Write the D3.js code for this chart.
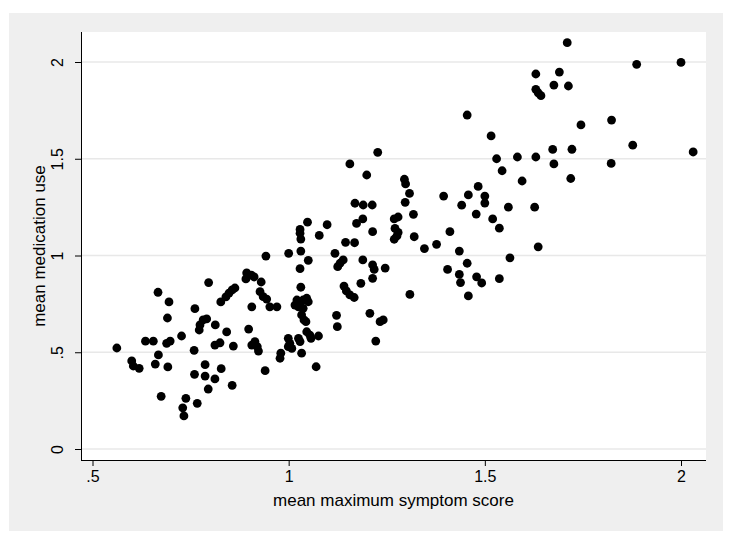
<!DOCTYPE html>
<html>
<head>
<meta charset="utf-8">
<script src="https://cdn.jsdelivr.net/npm/d3@7"></script>
<style>
  body { margin: 0; background: #fff; }
  svg { display: block; }
  text { font-family: Arial, "Liberation Sans", sans-serif; fill: #000; }
</style>
</head>
<body>
<div id="draw"></div>
<script>
// mean maximum symptom score (x) vs mean medication use (y)
var symptom = [
  0.562, 0.600, 0.604, 0.619, 0.635, 0.655, 0.660, 0.668, 0.667, 0.695,
  0.691, 0.689, 0.698, 0.692, 0.675, 0.727, 0.730, 0.733, 0.738, 0.761,
  0.759, 0.760, 0.767, 0.772, 0.774, 0.782, 0.791, 0.787, 0.787, 0.796,
  0.795, 0.812, 0.813, 0.812, 0.825, 0.827, 0.828, 0.842, 0.856, 0.859,
  0.840, 0.848, 0.856, 0.863, 0.893, 0.891, 0.905, 0.912, 0.930, 0.927,
  0.935, 0.944, 0.906, 0.952, 0.970, 0.898, 0.906, 0.914, 0.920, 0.923,
  0.940, 0.942, 0.980, 0.978, 0.999, 1.003, 0.999, 1.008, 1.025, 1.029,
  1.000, 1.029, 1.029, 1.031, 1.031, 1.029, 1.031, 1.021, 1.029, 1.037,
  1.046, 1.050, 1.016, 1.025, 1.037, 1.033, 1.039, 1.044, 1.033, 1.046,
  1.054, 1.057, 1.076, 1.048, 1.050, 1.070, 1.078, 1.098, 1.118, 1.122,
  1.124, 1.131, 1.139, 1.125, 1.145, 1.168, 1.141, 1.147, 1.156, 1.167,
  1.169, 1.190, 1.213, 1.173, 1.189, 1.156, 1.199, 1.189, 1.184, 1.214,
  1.218, 1.214, 1.214, 1.246, 1.207, 1.233, 1.241, 1.222, 1.227, 1.269,
  1.279, 1.271, 1.279, 1.276, 1.269, 1.295, 1.298, 1.308, 1.297, 1.318,
  1.320, 1.309, 1.346, 1.377, 1.395, 1.405, 1.411, 1.435, 1.435, 1.438,
  1.441, 1.455, 1.455, 1.458, 1.458, 1.478, 1.479, 1.492, 1.483, 1.500,
  1.500, 1.516, 1.520, 1.530, 1.537, 1.537, 1.544, 1.560, 1.564, 1.583,
  1.595, 1.627, 1.630, 1.636, 1.673, 1.676, 1.722, 1.719, 1.745, 1.823,
  1.822, 1.877, 2.031, 1.630, 1.690, 1.676, 1.713, 1.630, 1.636, 1.643,
  1.710, 1.887, 2.000
];
var medication = [
  0.522, 0.455, 0.429, 0.417, 0.557, 0.557, 0.439, 0.486, 0.810, 0.760,
  0.677, 0.546, 0.558, 0.424, 0.272, 0.584, 0.213, 0.171, 0.262, 0.725,
  0.510, 0.386, 0.236, 0.615, 0.641, 0.667, 0.672, 0.436, 0.377, 0.860,
  0.310, 0.362, 0.641, 0.537, 0.549, 0.760, 0.415, 0.605, 0.329, 0.532,
  0.786, 0.806, 0.822, 0.832, 0.910, 0.879, 0.899, 0.889, 0.863, 0.813,
  0.787, 0.775, 0.735, 0.735, 0.735, 0.620, 0.537, 0.555, 0.529, 0.506,
  0.405, 0.997, 0.495, 0.469, 0.572, 0.546, 0.529, 0.520, 0.572, 0.555,
  1.011, 1.135, 1.115, 1.085, 1.023, 0.932, 0.836, 0.770, 0.753, 0.770,
  0.779, 0.761, 0.744, 0.735, 0.727, 0.693, 0.667, 0.658, 0.495, 0.606,
  0.589, 0.572, 0.584, 1.172, 0.975, 0.425, 1.104, 1.159, 1.011, 0.691,
  0.632, 0.960, 0.977, 0.942, 1.068, 1.066, 0.842, 0.817, 0.796, 0.783,
  1.270, 1.261, 1.261, 1.166, 1.189, 1.473, 1.416, 0.977, 0.856, 0.951,
  0.928, 0.882, 1.123, 0.935, 0.701, 0.658, 0.667, 0.558, 1.533, 1.189,
  1.199, 1.140, 1.119, 1.101, 1.084, 1.394, 1.370, 1.321, 1.275, 1.213,
  1.097, 0.799, 1.036, 1.058, 1.307, 0.928, 1.123, 1.023, 0.902, 0.860,
  1.260, 1.726, 0.960, 1.313, 0.791, 1.214, 0.890, 0.858, 1.357, 1.307,
  1.271, 1.618, 1.189, 1.500, 1.141, 0.880, 1.438, 1.250, 0.988, 1.509,
  1.385, 1.250, 1.509, 1.045, 1.548, 1.473, 1.549, 1.398, 1.675, 1.700,
  1.476, 1.570, 1.535, 1.938, 1.948, 1.881, 1.876, 1.859, 1.841, 1.826,
  2.100, 1.988, 1.998
];

var xTicks = [0.5, 1, 1.5, 2];
var xTickLabels = ['.5', '1', '1.5', '2'];
var yTicks = [0, 0.5, 1, 1.5, 2];
var yTickLabels = ['0', '.5', '1', '1.5', '2'];

var xTitle = 'mean maximum symptom score';
var yTitle = 'mean medication use';

var W = 745, H = 545;
// plot region (white box)
var pl = 81, pr = 706, pt = 32, pb = 460;

var x = d3.scaleLinear().domain([0.5, 2]).range([92.5, 681]);
var y = d3.scaleLinear().domain([0, 2]).range([449, 62]);

var svg = d3.select('#draw').append('svg')
  .attr('width', W)
  .attr('height', H);

// outer grey frame
svg.append('rect')
  .attr('x', 9).attr('y', 13)
  .attr('width', 714).attr('height', 518)
  .attr('fill', '#efefef');

svg.append('rect')
  .attr('x', pl).attr('y', pt)
  .attr('width', pr - pl).attr('height', pb - pt)
  .attr('fill', '#fff');

// horizontal grid lines
svg.append('g').selectAll('line')
  .data(yTicks)
  .enter().append('line')
  .attr('x1', pl).attr('x2', pr)
  .attr('y1', function(d) { return y(d); })
  .attr('y2', function(d) { return y(d); })
  .attr('stroke', '#e8e8e8')
  .attr('stroke-width', 1.5);

// points
var pts = symptom.map(function(v, i) { return [v, medication[i]]; });
svg.append('g').selectAll('circle')
  .data(pts)
  .enter().append('circle')
  .attr('cx', function(d) { return x(d[0]); })
  .attr('cy', function(d) { return y(d[1]); })
  .attr('r', 4.4)
  .attr('fill', '#000');

// axes
var xAxis = d3.axisBottom(x)
  .tickValues(xTicks)
  .tickFormat(function(d, i) { return xTickLabels[i]; })
  .tickSizeInner(6).tickSizeOuter(0).tickPadding(5);
var gx = svg.append('g')
  .attr('transform', 'translate(0,' + pb + ')')
  .call(xAxis);
gx.select('.domain').attr('d', 'M' + pl + ',0.5H' + pr).attr('stroke', '#000');
gx.selectAll('text').attr('font-size', 16).attr('font-family', 'Arial, "Liberation Sans", sans-serif').attr('fill', '#000');

var yAxis = d3.axisLeft(y)
  .tickValues(yTicks)
  .tickFormat(function(d, i) { return yTickLabels[i]; })
  .tickSizeInner(6).tickSizeOuter(0).tickPadding(6);
var gy = svg.append('g')
  .attr('transform', 'translate(' + pl + ',0)')
  .call(yAxis);
gy.select('.domain').attr('d', 'M0.5,' + pt + 'V' + pb).attr('stroke', '#000');
gy.selectAll('text')
  .attr('font-size', 16)
  .attr('font-family', 'Arial, "Liberation Sans", sans-serif')
  .attr('fill', '#000')
  .attr('text-anchor', 'middle')
  .attr('dy', 0)
  .attr('x', -20)
  .attr('transform', function() {
    return 'rotate(-90,-20,0)';
  })
  .attr('y', 0);

// fix rotated y labels: place each centred on its tick
gy.selectAll('.tick text')
  .attr('x', 0).attr('y', 0)
  .attr('transform', 'translate(-18,0) rotate(-90)')
  .attr('dy', '0');

// axis titles
svg.append('text')
  .attr('x', (pl + pr) / 2)
  .attr('y', 506)
  .attr('text-anchor', 'middle')
  .attr('font-size', 17)
  .text(xTitle);

svg.append('text')
  .attr('transform', 'translate(45,' + (pt + pb) / 2 + ') rotate(-90)')
  .attr('text-anchor', 'middle')
  .attr('font-size', 17)
  .text(yTitle);
</script>
</body>
</html>
